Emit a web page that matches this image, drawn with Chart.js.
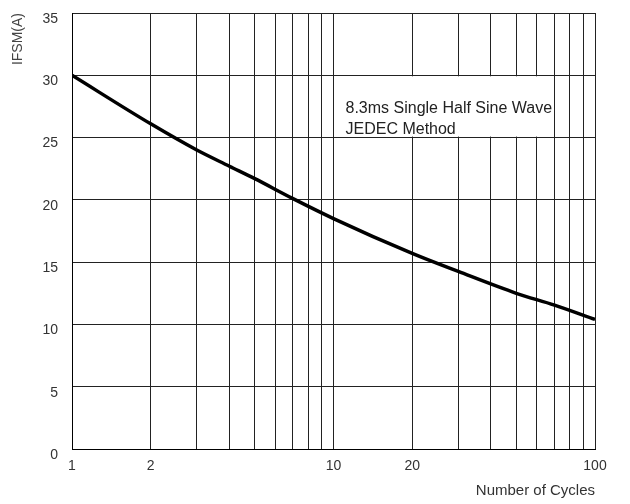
<!DOCTYPE html>
<html>
<head>
<meta charset="utf-8">
<script src="https://cdn.jsdelivr.net/npm/chart.js@4/dist/chart.umd.min.js"></script>
<style>
  html, body { margin: 0; padding: 0; background: #fff; }
  #wrap { width: 630px; height: 504px; }
</style>
</head>
<body>
<div id="wrap"><canvas id="chart"></canvas></div>
<script>
// values
const cycles = [1, 2, 3, 4, 5, 7, 10, 20, 30, 50, 70, 100];
const ifsm = [30, 26.1, 24.0, 22.7, 21.7, 20.1, 18.5, 15.7, 14.25, 12.5, 11.55, 10.4];
const xGrid = [1, 2, 3, 4, 5, 6, 7, 8, 9, 10, 20, 30, 40, 50, 60, 70, 80, 90, 100];
const xLabels = [1, 2, 10, 20, 100];
const yTicks = [0, 5, 10, 15, 20, 25, 30, 35];
const noteLines = ["8.3ms Single Half Sine Wave", "JEDEC Method"];

const FONT = "'Liberation Sans', Arial, sans-serif";

// white box behind the note, then the note text
const notePlugin = {
  id: "note",
  beforeDatasetsDraw(chart) {
    const { ctx, scales: { x, y } } = chart;
    const x0 = x.getPixelForValue(10) + 1, x1 = x.getPixelForValue(70) - 1;
    const y0 = y.getPixelForValue(30) + 1, y1 = y.getPixelForValue(25) - 1;
    ctx.save();
    ctx.fillStyle = "#fff";
    ctx.fillRect(x0, y0, x1 - x0, y1 - y0);
    ctx.fillStyle = "#222";
    ctx.font = "16px " + FONT;
    ctx.textBaseline = "alphabetic";
    ctx.fillText(noteLines[0], x0 + 11, y0 + 37);
    ctx.fillText(noteLines[1], x0 + 11, y0 + 58);
    ctx.restore();
  }
};

new Chart(document.getElementById("chart"), {
  type: "line",
  data: {
    datasets: [{
      data: cycles.map((c, i) => ({ x: c, y: ifsm[i] })),
      borderColor: "#000",
      borderWidth: 3.5,
      pointRadius: 0,
      cubicInterpolationMode: "monotone",
      fill: false
    }]
  },
  options: {
    responsive: true,
    maintainAspectRatio: false,
    animation: false,
    layout: { padding: { top: 13, right: 35, left: 0, bottom: 0 } },
    plugins: { legend: { display: false }, tooltip: { enabled: false } },
    scales: {
      x: {
        type: "logarithmic",
        min: 1,
        max: 100,
        afterBuildTicks(scale) { scale.ticks = xGrid.map(v => ({ value: v })); },
        afterFit(scale) { scale.height = 55; },
        ticks: {
          autoSkip: false,
          maxRotation: 0,
          padding: 9,
          color: "#333",
          font: { family: FONT, size: 14 },
          callback: v => xLabels.includes(v) ? String(v) : ""
        },
        grid: { color: "#222", lineWidth: 1, drawTicks: false },
        border: { color: "#000", width: 1 },
        title: {
          display: true,
          text: "Number of Cycles",
          align: "end",
          color: "#333",
          font: { family: FONT, size: 15 },
          padding: { top: 8 }
        }
      },
      y: {
        min: 0,
        max: 35,
        afterBuildTicks(scale) { scale.ticks = yTicks.map(v => ({ value: v })); },
        afterFit(scale) {
          scale.width = 72;
          scale.paddingTop = 0;
          scale.paddingBottom = 0;
        },
        ticks: {
          padding: 14,
          labelOffset: 6,
          color: "#333",
          font: { family: FONT, size: 14 }
        },
        grid: { color: "#222", lineWidth: 1, drawTicks: false },
        border: { color: "#000", width: 1 },
        title: {
          display: true,
          text: "IFSM(A)",
          align: "end",
          color: "#444",
          font: { family: FONT, size: 14 },
          padding: { top: 10, bottom: 0 }
        }
      }
    }
  },
  plugins: [notePlugin]
});
</script>
</body>
</html>
